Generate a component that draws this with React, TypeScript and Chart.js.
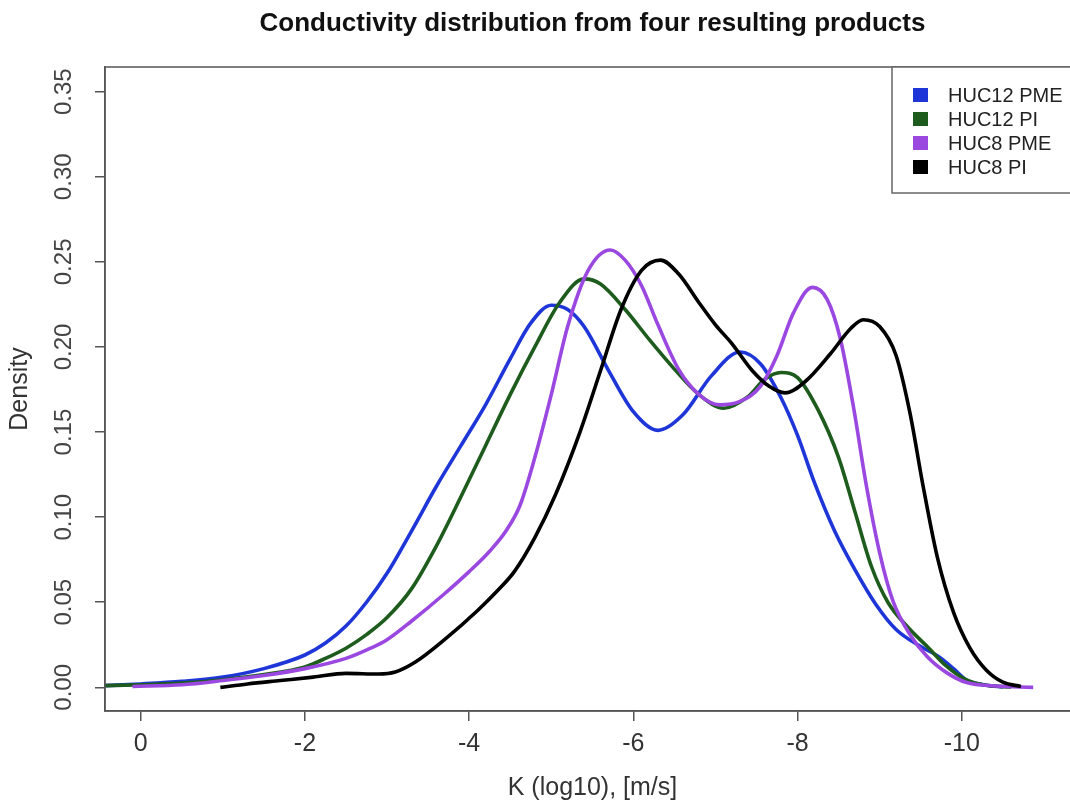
import React, { useEffect, useRef } from "react";
import { Chart, registerables } from "chart.js";

Chart.register(...registerables);

const TITLE = "Conductivity distribution from four resulting products";
const X_LABEL = "K (log10), [m/s]";
const Y_LABEL = "Density";

const X_TICKS = [0, -2, -4, -6, -8, -10];
const X_TICK_LABELS = ["0", "-2", "-4", "-6", "-8", "-10"];
const Y_TICKS = [0, 0.05, 0.1, 0.15, 0.2, 0.25, 0.3, 0.35];
const Y_TICK_LABELS = ["0.00", "0.05", "0.10", "0.15", "0.20", "0.25", "0.30", "0.35"];

const SERIES_NAMES = ["HUC12 PME", "HUC12 PI", "HUC8 PME", "HUC8 PI"];
const SERIES_COLORS = ["#1e36d8", "#1d5c1d", "#9a48e0", "#000000"];

// HUC12 PME (blue)
const huc12PmeK = [0.45, 0, -0.5, -1, -1.5, -2, -2.25, -2.5, -2.75, -3, -3.3, -3.6, -3.9, -4.2, -4.5, -4.75, -5.0, -5.2, -5.4, -5.7, -6.0, -6.3, -6.6, -6.95, -7.3, -7.55, -7.8, -8.0, -8.2, -8.45, -8.7, -8.95, -9.2, -9.5, -9.72, -9.9, -10.05, -10.3, -10.5];
const huc12PmeDensity = [0.001, 0.002, 0.0035, 0.006, 0.011, 0.019, 0.026, 0.036, 0.05, 0.067, 0.092, 0.118, 0.142, 0.166, 0.193, 0.214, 0.2245, 0.222, 0.212, 0.186, 0.162, 0.151, 0.16, 0.183, 0.197, 0.19, 0.17, 0.148, 0.121, 0.092, 0.069, 0.049, 0.034, 0.024, 0.018, 0.011, 0.0045, 0.0012, 0.0003];

// HUC12 PI (green)
const huc12PiK = [0.45, 0, -0.5, -1, -1.5, -2, -2.25, -2.5, -2.75, -3, -3.3, -3.6, -3.9, -4.2, -4.5, -4.8, -5.1, -5.4, -5.6, -5.9, -6.2, -6.5, -6.8, -7.1, -7.4, -7.6, -7.8, -8.0, -8.25, -8.5, -8.7, -8.9, -9.1, -9.35, -9.6, -9.8, -10.05, -10.3, -10.6];
const huc12PiDensity = [0.001, 0.0015, 0.0025, 0.0045, 0.0075, 0.012, 0.017, 0.023, 0.031, 0.041, 0.058, 0.083, 0.112, 0.142, 0.172, 0.2, 0.226, 0.24, 0.237, 0.222, 0.204, 0.187, 0.172, 0.164, 0.171, 0.181, 0.185, 0.182, 0.163, 0.135, 0.103, 0.071, 0.05, 0.035, 0.023, 0.013, 0.0045, 0.0012, 0.0002];

// HUC8 PME (purple)
const huc8PmeK = [0.1, -0.5, -1, -1.5, -2, -2.5, -2.8, -3, -3.3, -3.7, -4.0, -4.25, -4.45, -4.62, -4.8, -5.0, -5.2, -5.45, -5.72, -5.9, -6.1, -6.3, -6.55, -6.8, -7.05, -7.3, -7.55, -7.75, -7.95, -8.18, -8.36, -8.52, -8.68, -8.84, -9.0, -9.16, -9.37, -9.58, -9.82, -10.06, -10.4, -10.87];
const huc8PmeDensity = [0.0005, 0.0015, 0.004, 0.007, 0.011, 0.017, 0.023, 0.028, 0.039, 0.055, 0.068, 0.08, 0.092, 0.107, 0.135, 0.172, 0.212, 0.245, 0.257, 0.251, 0.236, 0.213, 0.187, 0.172, 0.166, 0.168, 0.177, 0.195, 0.22, 0.235, 0.228, 0.205, 0.165, 0.118, 0.079, 0.051, 0.031, 0.018, 0.0085, 0.0028, 0.0008, 0.0];

// HUC8 PI (black)
const huc8PiK = [-0.97, -1.3, -1.7, -2.1, -2.5, -2.9, -3.1, -3.35, -3.7, -4.1, -4.35, -4.55, -4.8, -5.05, -5.35, -5.6, -5.85, -6.1, -6.33, -6.55, -6.8, -7.0, -7.2, -7.45, -7.65, -7.85, -8.1, -8.4, -8.65, -8.8, -9.0, -9.2, -9.37, -9.53, -9.7, -9.9, -10.1, -10.3, -10.5, -10.72];
const huc8PiDensity = [0.0, 0.002, 0.004, 0.006, 0.0082, 0.0078, 0.009, 0.015, 0.028, 0.045, 0.057, 0.068, 0.088, 0.113, 0.15, 0.186, 0.222, 0.245, 0.251, 0.243, 0.226, 0.213, 0.202, 0.186, 0.177, 0.173, 0.18, 0.196, 0.211, 0.216, 0.212, 0.195, 0.161, 0.118, 0.077, 0.044, 0.023, 0.01, 0.003, 0.0005];

const FONT = "'Liberation Sans', Arial, Helvetica, sans-serif";

const toPoints = (xs: number[], ys: number[]) => xs.map((x, i) => ({ x, y: ys[i] }));

const decorPlugin = {
  id: "decor",
  afterDraw(chart: any) {
    const { ctx, chartArea: a, scales } = chart;
    ctx.save();
    // plot box
    ctx.strokeStyle = "#555";
    ctx.lineWidth = 1.5;
    ctx.strokeRect(a.left, a.top, a.right - a.left, a.bottom - a.top);

    // title
    ctx.fillStyle = "#111";
    ctx.textAlign = "center";
    ctx.textBaseline = "middle";
    ctx.font = `bold 26px ${FONT}`;
    ctx.fillText(TITLE, (a.left + a.right) / 2, 24);

    // x label
    ctx.fillStyle = "#333";
    ctx.font = `25px ${FONT}`;
    ctx.fillText(X_LABEL, (a.left + a.right) / 2, 788);

    // y label
    ctx.save();
    ctx.translate(20, (a.top + a.bottom) / 2);
    ctx.rotate(-Math.PI / 2);
    ctx.fillText(Y_LABEL, 0, 0);
    ctx.restore();

    // y tick labels (rotated, R style)
    ctx.fillStyle = "#444";
    ctx.font = `24px ${FONT}`;
    Y_TICKS.forEach((v, i) => {
      const y = scales.y.getPixelForValue(v);
      ctx.save();
      ctx.translate(64, y);
      ctx.rotate(-Math.PI / 2);
      ctx.fillText(Y_TICK_LABELS[i], 0, 0);
      ctx.restore();
    });

    // legend
    const lx = 892;
    const ly = a.top;
    ctx.fillStyle = "#fff";
    ctx.fillRect(lx, ly, a.right - lx, 126);
    ctx.strokeStyle = "#666";
    ctx.lineWidth = 1.5;
    ctx.strokeRect(lx, ly, a.right - lx, 126);
    ctx.font = `20px ${FONT}`;
    ctx.textAlign = "left";
    SERIES_NAMES.forEach((name, i) => {
      const cy = ly + 28 + i * 24;
      ctx.fillStyle = SERIES_COLORS[i];
      ctx.fillRect(913, cy - 7, 15, 14);
      ctx.fillStyle = "#222";
      ctx.fillText(name, 948, cy + 1);
    });
    ctx.restore();
  },
};

export default function App() {
  const canvasRef = useRef<HTMLCanvasElement | null>(null);

  useEffect(() => {
    const canvas = canvasRef.current;
    if (!canvas) return;
    const series = [
      toPoints(huc12PmeK, huc12PmeDensity),
      toPoints(huc12PiK, huc12PiDensity),
      toPoints(huc8PmeK, huc8PmeDensity),
      toPoints(huc8PiK, huc8PiDensity),
    ];
    const chart = new Chart(canvas, {
      type: "line",
      data: {
        datasets: series.map((data, i) => ({
          label: SERIES_NAMES[i],
          data,
          borderColor: SERIES_COLORS[i],
          backgroundColor: SERIES_COLORS[i],
          borderWidth: 3.6,
          pointRadius: 0,
          fill: false,
          cubicInterpolationMode: "monotone" as const,
          order: 4 - i,
        })),
      },
      options: {
        responsive: false,
        animation: false,
        layout: { padding: { top: 67, right: 10, left: 0, bottom: 0 } },
        plugins: {
          legend: { display: false },
          title: { display: false },
          tooltip: { enabled: false },
        },
        scales: {
          x: {
            type: "linear",
            reverse: true,
            min: -11.44,
            max: 0.435,
            afterBuildTicks: (s: any) => {
              s.ticks = X_TICKS.map((v) => ({ value: v }));
            },
            afterFit: (s: any) => {
              s.height = 96;
            },
            grid: { drawOnChartArea: false, drawTicks: true, tickLength: 10, color: "#555", lineWidth: 1.5 },
            border: { display: true, color: "#555", width: 1.5 },
            ticks: {
              autoSkip: false,
              maxRotation: 0,
              color: "#333",
              padding: 8,
              font: { family: FONT, size: 25 },
              callback: (_v: any, i: number) => X_TICK_LABELS[i],
            },
          },
          y: {
            type: "linear",
            min: -0.0139,
            max: 0.3645,
            afterBuildTicks: (s: any) => {
              s.ticks = Y_TICKS.map((v) => ({ value: v }));
            },
            afterFit: (s: any) => {
              s.width = 105;
            },
            grid: { drawOnChartArea: false, drawTicks: true, tickLength: 10, color: "#555", lineWidth: 1.5 },
            border: { display: true, color: "#555", width: 1.5 },
            ticks: { display: false },
          },
        },
      },
      plugins: [decorPlugin],
    });
    return () => chart.destroy();
  }, []);

  return (
    <div
      style={{
        position: "fixed",
        left: 0,
        top: 0,
        width: 1070,
        height: 807,
        overflow: "hidden",
        background: "#fff",
      }}
    >
      <canvas ref={canvasRef} width={1090} height={807} style={{ display: "block" }} />
    </div>
  );
}
